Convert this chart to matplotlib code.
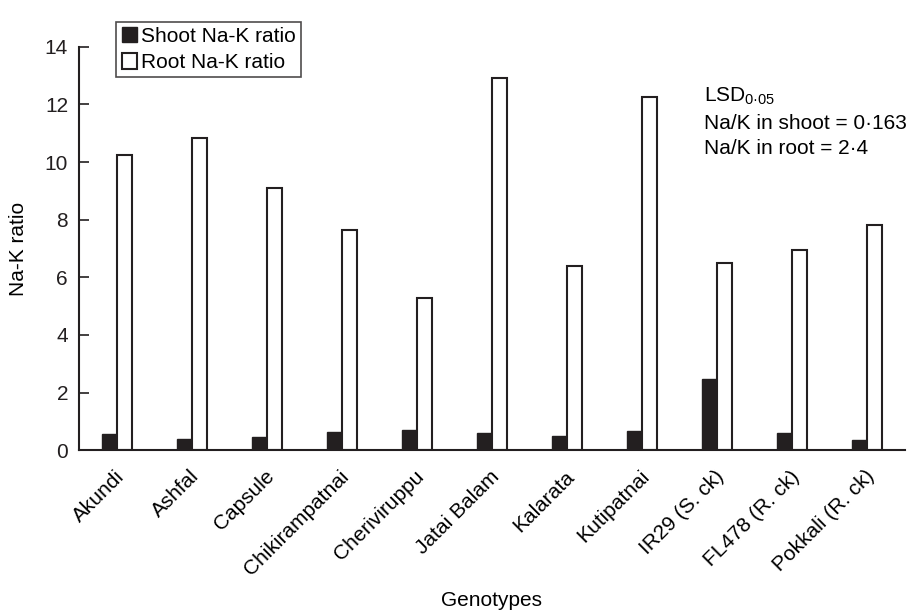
import matplotlib
matplotlib.use("Agg")
import matplotlib.pyplot as plt
import numpy as np

plt.rcParams['font.family'] = ['Liberation Sans', 'DejaVu Sans']
plt.rcParams['mathtext.fontset'] = 'custom'
plt.rcParams['mathtext.rm'] = 'Liberation Sans'

genotypes = ["Akundi", "Ashfal", "Capsule", "Chikirampatnai", "Cheriviruppu",
             "Jatai Balam", "Kalarata", "Kutipatnai", "IR29 (S. ck)",
             "FL478 (R. ck)", "Pokkali (R. ck)"]
shoot_ratio = [0.55, 0.40, 0.47, 0.63, 0.70, 0.58, 0.48, 0.65, 2.48, 0.60, 0.35]
root_ratio = [10.25, 10.85, 9.10, 7.65, 5.27, 12.90, 6.40, 12.25, 6.50, 6.93, 7.83]

dark = "#231f20"
x = np.arange(len(genotypes))
w = 0.2
fs = 15

fig = plt.figure(figsize=(9.1, 6.15), dpi=100)
ax = fig.add_axes([0.087, 0.268, 0.907, 0.656])

ax.bar(x - w / 2, shoot_ratio, w, color=dark, edgecolor=dark, linewidth=1.0,
       label="Shoot Na-K ratio")
ax.bar(x + w / 2, root_ratio, w, color="white", edgecolor=dark, linewidth=1.5,
       label="Root Na-K ratio")

ax.set_xlim(-0.5, 10.5)
ax.set_ylim(0, 14)
ax.set_yticks(range(0, 15, 2))
ax.set_xticks(x - 0.03)
ax.set_xticklabels(genotypes, rotation=45, ha="right", rotation_mode="anchor",
                   fontsize=fs)
ax.tick_params(axis="x", length=0, pad=12)
ax.tick_params(axis="y", direction="in", length=7, width=1.2, labelsize=fs,
               colors=dark, pad=8)
for s in ["top", "right"]:
    ax.spines[s].set_visible(False)
for s in ["left", "bottom"]:
    ax.spines[s].set_linewidth(1.5)
    ax.spines[s].set_color(dark)

ax.set_ylabel("Na-K ratio", fontsize=fs, va="center")
ax.yaxis.set_label_coords(-0.073, 0.5)
ax.set_xlabel("Genotypes", fontsize=fs, va="center")
ax.xaxis.set_label_coords(0.5, -0.372)

leg = ax.legend(loc="upper left", bbox_to_anchor=(0.045, 1.062), fontsize=fs,
                frameon=True, fancybox=False, edgecolor=dark,
                handlelength=0.75, handleheight=0.75, handletextpad=0.2,
                borderpad=0.25, labelspacing=0.35, borderaxespad=0)
leg.get_frame().set_linewidth(1.2)

ax.text(0.757, 0.864, r"LSD$_{\mathregular{0·05}}$", transform=ax.transAxes,
        fontsize=fs, va="baseline")
ax.text(0.757, 0.796, "Na/K in shoot = 0·163", transform=ax.transAxes,
        fontsize=fs, va="baseline")
ax.text(0.757, 0.733, "Na/K in root = 2·4", transform=ax.transAxes,
        fontsize=fs, va="baseline")

plt.savefig("out.png", dpi=100)
